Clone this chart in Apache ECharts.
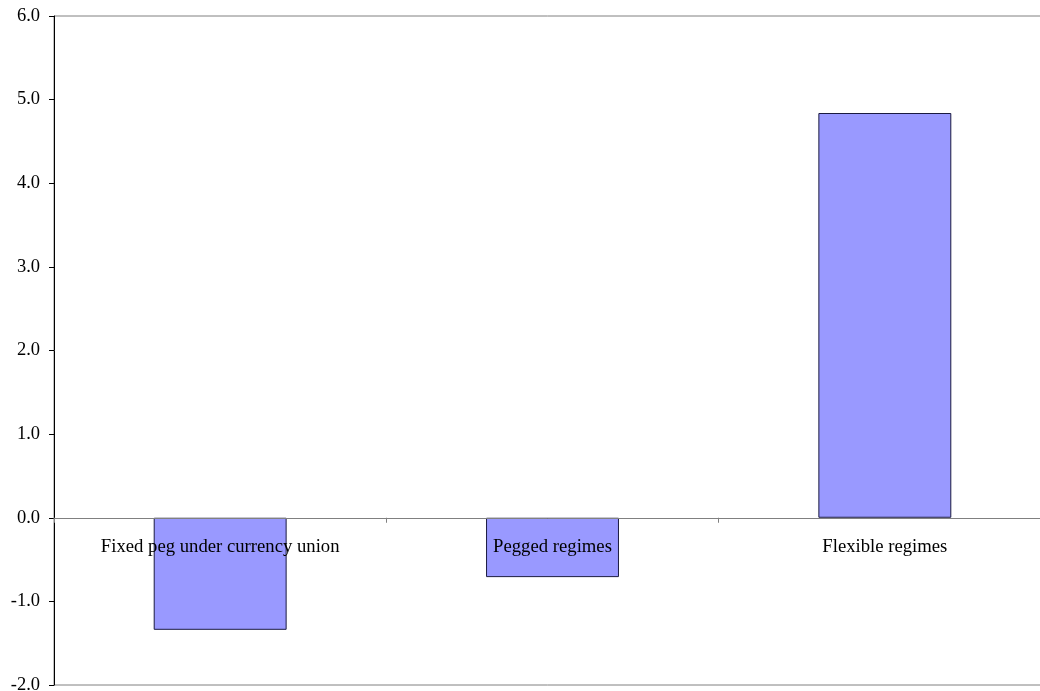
<!DOCTYPE html>
<html>
<head>
<meta charset="utf-8">
<script src="https://cdn.jsdelivr.net/npm/echarts@6/dist/echarts.min.js"></script>
<style>html,body{margin:0;padding:0;background:#fff}#c{width:1040px;height:691px}</style>
</head>
<body>
<div id="c"></div>
<script>
const categories = ["Fixed peg under currency union", "Pegged regimes", "Flexible regimes"];
const values = [-1.34, -0.71, 4.84];
const yMin = -2, yMax = 6, yStep = 1;

const gridTop = 16, gridHeight = 669;
const zeroOffset = -gridHeight * (0 - yMin) / (yMax - yMin);

const chart = echarts.init(document.getElementById('c'), null, {renderer: 'canvas'});
chart.setOption({
  animation: false,
  backgroundColor: '#ffffff',
  grid: {left: 54, top: gridTop, width: 997, height: gridHeight, show: true, borderColor: '#808080', borderWidth: 1, containLabel: false, outerBoundsMode: 'none'},
  xAxis: {
    type: 'category',
    data: categories,
    position: 'bottom',
    offset: zeroOffset,
    z: 10,
    axisLine: {onZero: false, lineStyle: {color: '#808080', width: 1}},
    axisTick: {show: true, length: 5, lineStyle: {color: '#808080'}},
    axisLabel: {color: '#000', fontFamily: 'Liberation Serif', fontSize: 18.7, margin: 20},
    splitLine: {show: false}
  },
  yAxis: {
    type: 'value',
    min: yMin, max: yMax, interval: yStep,
    axisLine: {show: true, lineStyle: {color: '#000', width: 1}},
    axisTick: {show: true, length: 5, lineStyle: {color: '#000'}},
    axisLabel: {color: '#000', fontFamily: 'Liberation Serif', fontSize: 18.5, margin: 14, formatter: v => v.toFixed(1)},
    splitLine: {show: false}
  },
  series: [{
    type: 'bar',
    data: values,
    barWidth: '40%',
    z: 2,
    itemStyle: {color: '#9999FF', borderColor: '#1a1a40', borderWidth: 1}
  }]
});
</script>
</body>
</html>
